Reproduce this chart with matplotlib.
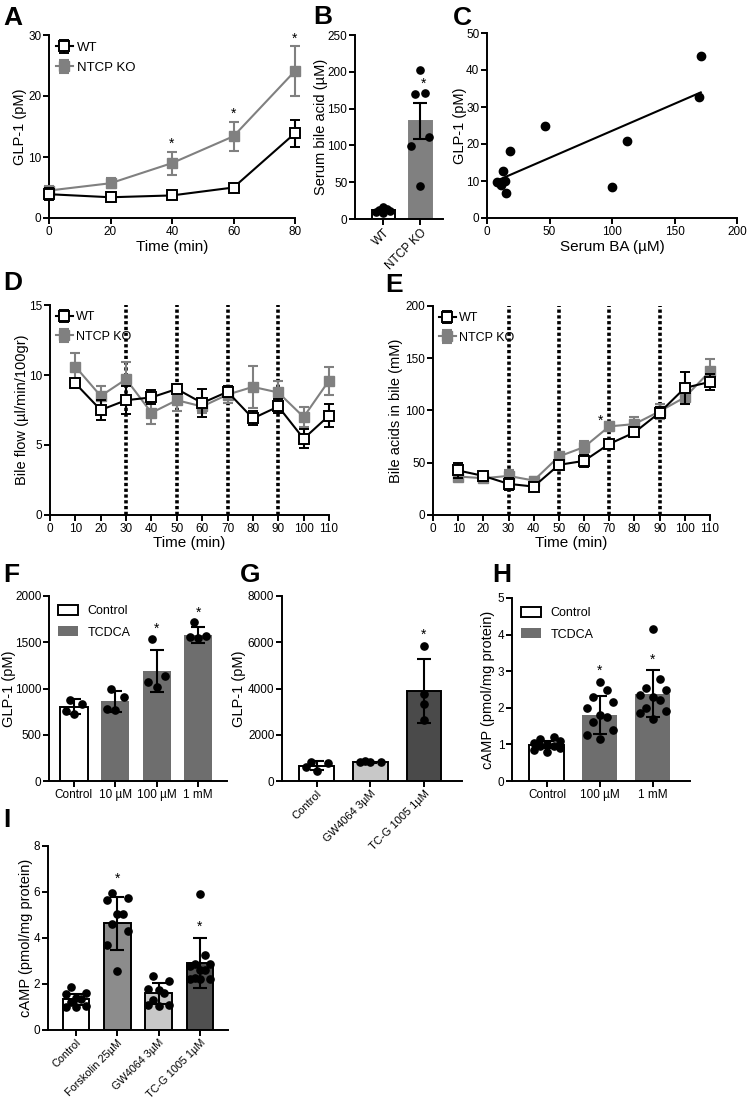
import numpy as np
import matplotlib
matplotlib.use("Agg")
import matplotlib.pyplot as plt

plt.rcParams['font.family'] = ['Liberation Sans', 'DejaVu Sans']

W, H = 747, 1099
KO_GRAY = "#808080"
TC_GRAY = "#6e6e6e"

# ---- A: GLP-1 time course
a_time = [0, 20, 40, 60, 80]
a_wt = [3.9, 3.4, 3.7, 5.0, 13.9]
a_wt_err = [1.0, 0.8, 0.3, 0.6, 2.2]
a_ko = [4.5, 5.7, 9.0, 13.4, 24.1]
a_ko_err = [0.8, 0.8, 1.9, 2.4, 4.1]
a_star = [40, 60, 80]

# ---- B: serum bile acid
b_groups = ["WT", "NTCP KO"]
b_mean = [12, 133]
b_err = [2, 24]
b_wt_dots = [10, 12, 13, 11, 16, 8]
b_ko_dots = [203, 171, 170, 112, 99, 45]

# ---- C: GLP-1 vs serum BA
c_ba = [8, 11, 13, 14.5, 15, 18.5, 46, 100, 111.6, 169.5, 171]
c_glp = [9.8, 9.0, 12.8, 10.1, 6.8, 18.1, 25, 8.5, 20.8, 32.8, 43.8]

# ---- D: bile flow
de_time = [10, 20, 30, 40, 50, 60, 70, 80, 90, 100, 110]
de_lines = [30, 50, 70, 90]
d_wt = [9.4, 7.5, 8.2, 8.4, 9.0, 8.0, 8.8, 6.9, 7.75, 5.45, 7.1]
d_wt_err = [0.3, 0.7, 1.0, 0.5, 0.3, 1.0, 0.4, 0.5, 0.5, 0.7, 0.8]
d_ko = [10.6, 8.5, 9.7, 7.3, 8.2, 7.75, 8.6, 9.15, 8.75, 7.0, 9.6]
d_ko_err = [1.0, 0.7, 1.2, 0.8, 0.8, 0.5, 0.6, 1.5, 0.8, 0.7, 1.0]

# ---- E: bile acids in bile
e_wt = [42.6, 37.4, 29.8, 27.2, 48, 51.8, 68, 79, 98, 121.6, 127.4]
e_wt_err = [7, 3, 6, 3, 5, 6, 4, 4, 5, 15, 8]
e_ko = [36.8, 35.2, 37.4, 33, 56, 65, 84.8, 87, 99.2, 112.6, 137.6]
e_ko_err = [3, 3, 6, 3, 3, 6, 4, 7, 7, 6, 12]

# ---- F: GLP-1 with TCDCA
f_labels = ["Control", "10 µM", "100 µM", "1 mM"]
f_mean = [805, 860, 1190, 1580]
f_err = [80, 112, 230, 90]
f_dots = [[880, 830, 760, 720], [990, 910, 770, 780],
          [1540, 1140, 1075, 1020], [1720, 1560, 1550, 1565]]
f_star = [2, 3]

# ---- G: GLP-1 agonists
g_labels = ["Control", "GW4064 3µM", "TC-G 1005 1µM"]
g_mean = [670, 820, 3880]
g_err = [180, 20, 1390]
g_dots = [[840, 800, 620, 450], [820, 850, 830, 820], [5855, 3762, 3343, 2650]]
g_colors = ["white", "#c8c8c8", "#4a4a4a"]

# ---- H: cAMP with TCDCA
h_labels = ["Control", "100 µM", "1 mM"]
h_mean = [0.99, 1.8, 2.39]
h_err = [0.1, 0.51, 0.65]
h_dots = [[1.05, 1.1, 1.15, 1.2, 0.95, 0.9, 0.85, 0.8, 1.0, 0.95],
          [2.7, 2.5, 2.3, 2.15, 2.0, 1.8, 1.75, 1.6, 1.4, 1.25, 1.15],
          [4.15, 2.8, 2.55, 2.5, 2.35, 2.3, 2.2, 2.0, 1.9, 1.85, 1.7]]
h_star = [None, 2.9, 3.2]

# ---- I: cAMP agonists
i_labels = ["Control", "Forskolin 25µM", "GW4064 3µM", "TC-G 1005 1µM"]
i_mean = [1.33, 4.65, 1.59, 2.92]
i_err = [0.25, 1.15, 0.45, 1.1]
i_dots = [[1.85, 1.6, 1.55, 1.4, 1.35, 1.2, 1.05, 1.0, 1.0],
          [5.95, 5.75, 5.65, 5.05, 5.05, 4.6, 4.3, 3.7, 2.55],
          [2.35, 2.15, 1.8, 1.75, 1.6, 1.3, 1.1, 1.1, 1.05],
          [5.9, 3.25, 2.85, 2.85, 2.8, 2.6, 2.6, 2.25, 2.2, 2.2, 2.2]]
i_colors = ["white", "#8c8c8c", "#c8c8c8", "#505050"]
i_star = [None, 6.4, None, 4.3]

fig = plt.figure(figsize=(W / 100, H / 100), dpi=100)


def box(l, t, r, b):
    ax = fig.add_axes([l / W, 1 - b / H, (r - l) / W, (b - t) / H])
    for s in ["top", "right"]:
        ax.spines[s].set_visible(False)
    for s in ["left", "bottom"]:
        ax.spines[s].set_linewidth(1.4)
    ax.tick_params(width=1.4, length=4, labelsize=8.5, pad=1.5)
    return ax


def ylab(ax, text, xpix, l, r):
    # xpix = pixel column of the label's right edge
    ax.set_ylabel(text, fontsize=10.5)
    ax.yaxis.set_label_coords((xpix - l) / (r - l), 0.5)


def letter(x, y, s):
    fig.text(x / W, 1 - y / H, s, fontsize=19, fontweight="bold", va="top", ha="left")


def dots(ax, xpos, vals, spread):
    vals = np.asarray(vals, dtype=float)
    pattern = [0, -1, 1, -0.5, 0.5]
    offs = np.zeros(len(vals))
    for k, i in enumerate(np.argsort(vals)):
        offs[i] = pattern[k % 5] * spread
    ax.plot(xpos + offs, vals, "o", color="k", ms=5.2, zorder=4, clip_on=False)


def timecourse(ax, t, wt, wt_err, ko, ko_err):
    ax.errorbar(t, ko, yerr=ko_err, fmt="-s", color=KO_GRAY, mfc=KO_GRAY, mec=KO_GRAY,
                ms=6.5, lw=1.5, elinewidth=1.5, capsize=3.5, capthick=1.5, label="NTCP KO",
                zorder=3, clip_on=False)
    ax.errorbar(t, wt, yerr=wt_err, fmt="-s", color="k", mfc="white", mec="k", mew=1.4,
                ms=6.5, lw=1.5, elinewidth=1.5, capsize=3.5, capthick=1.5, label="WT",
                zorder=4, clip_on=False)


def legend_lines(ax, fs):
    h, l = ax.get_legend_handles_labels()
    ax.legend(h[::-1], l[::-1], loc="upper left", frameon=False, fontsize=fs,
              handlelength=1.3, handletextpad=0.3, borderaxespad=0.1, labelspacing=0.6)


# A
ax = box(49, 35, 295, 218)
timecourse(ax, a_time, a_wt, a_wt_err, a_ko, a_ko_err)
for t in a_star:
    i = a_time.index(t)
    ax.text(t, a_ko[i] + a_ko_err[i] + 0.6, "*", ha="center", fontsize=10)
ax.set_xlim(0, 80)
ax.set_ylim(0, 30)
ax.set_xticks(a_time)
ax.set_yticks([0, 10, 20, 30])
ax.set_xlabel("Time (min)", fontsize=11, labelpad=2)
ylab(ax, "GLP-1 (pM)", 27, 49, 295)
legend_lines(ax, 9.5)
letter(3, 6, "A")

# B
ax = box(355, 35, 443, 219)
bx = np.arange(len(b_groups))
ax.bar(bx, b_mean, width=0.62, color=["white", KO_GRAY], edgecolor=["k", KO_GRAY], lw=1.4)
ax.errorbar(bx, b_mean, yerr=b_err, fmt="none", ecolor="k", elinewidth=1.5, capsize=5, capthick=1.5)
dots(ax, bx[0], b_wt_dots, 0.2)
dots(ax, bx[1], b_ko_dots, 0.25)
ax.text(bx[1] + 0.08, 178, "*", ha="center", fontsize=10)
ax.set_xlim(-0.76, 1.62)
ax.set_ylim(0, 250)
ax.set_yticks([0, 50, 100, 150, 200, 250])
ax.set_xticks(bx)
ax.set_xticklabels(b_groups, rotation=45, ha="right", rotation_mode="anchor", fontsize=8.5)
ylab(ax, "Serum bile acid (µM)", 328, 355, 443)
letter(313, 5, "B")

# C
ax = box(487, 33, 737, 218)
ax.plot(c_ba, c_glp, "o", color="k", ms=6, zorder=4, clip_on=False)
k, b0 = np.polyfit(c_ba, c_glp, 1)
xs = np.array([min(c_ba), max(c_ba)])
ax.plot(xs, k * xs + b0, color="k", lw=1.5)
ax.set_xlim(0, 200)
ax.set_ylim(0, 50)
ax.set_xticks([0, 50, 100, 150, 200])
ax.set_yticks([0, 10, 20, 30, 40, 50])
ax.set_xlabel("Serum BA (µM)", fontsize=11, labelpad=2)
ylab(ax, "GLP-1 (pM)", 467, 487, 737)
letter(453, 6, "C")

# D
ax = box(50, 305, 329, 515)
for v in de_lines:
    ax.axvline(v, color="k", ls=(0, (0.9, 0.7)), lw=2.6, zorder=2)
timecourse(ax, de_time, d_wt, d_wt_err, d_ko, d_ko_err)
ax.set_xlim(0, 110)
ax.set_ylim(0, 15)
ax.set_xticks(np.arange(0, 111, 10))
ax.set_yticks([0, 5, 10, 15])
ax.set_xlabel("Time (min)", fontsize=11, labelpad=1)
ylab(ax, "Bile flow (µl/min/100gr)", 29, 50, 329)
legend_lines(ax, 9)
letter(3, 271, "D")

# E
ax = box(433, 306, 710, 515)
for v in de_lines:
    ax.axvline(v, color="k", ls=(0, (0.9, 0.7)), lw=2.6, zorder=2)
timecourse(ax, de_time, e_wt, e_wt_err, e_ko, e_ko_err)
ax.text(66.5, 86, "*", ha="center", fontsize=10)
ax.set_xlim(0, 110)
ax.set_ylim(0, 200)
ax.set_xticks(np.arange(0, 111, 10))
ax.set_yticks([0, 50, 100, 150, 200])
ax.set_xlabel("Time (min)", fontsize=11, labelpad=1)
ylab(ax, "Bile acids in bile (mM)", 403, 433, 710)
legend_lines(ax, 9)
letter(385, 273, "E")

# F
ax = box(49, 596, 227, 781)
fx = np.arange(len(f_labels))
ax.bar(fx[:1], f_mean[:1], width=0.68, color="white", edgecolor="k", lw=1.4, label="Control")
ax.bar(fx[1:], f_mean[1:], width=0.68, color=TC_GRAY, lw=0, label="TCDCA")
ax.errorbar(fx, f_mean, yerr=f_err, fmt="none", ecolor="k", elinewidth=1.5, capsize=5, capthick=1.5)
for i in fx:
    dots(ax, i, f_dots[i], 0.2)
for i in f_star:
    ax.text(i, max(f_dots[i]) + 60, "*", ha="center", fontsize=10)
ax.set_xlim(-0.6, 3.7)
ax.set_ylim(0, 2000)
ax.set_yticks([0, 500, 1000, 1500, 2000])
ax.set_xticks(fx)
ax.set_xticklabels(f_labels)
ylab(ax, "GLP-1 (pM)", 16, 49, 227)
ax.legend(loc="upper left", frameon=False, fontsize=9, handlelength=1.6, handleheight=0.9,
          borderaxespad=0.3, labelspacing=0.7)
letter(3, 563, "F")

# G
ax = box(282, 596, 462, 781)
gx = np.arange(len(g_labels))
ax.bar(gx, g_mean, width=0.65, color=g_colors, edgecolor="k", lw=1.4)
ax.errorbar(gx, g_mean, yerr=g_err, fmt="none", ecolor="k", elinewidth=1.5, capsize=5, capthick=1.5)
for i in gx:
    dots(ax, i, g_dots[i], 0.2 if i < 2 else 0.0)
ax.text(gx[2], 6150, "*", ha="center", fontsize=10)
ax.set_xlim(-0.65, 2.71)
ax.set_ylim(0, 8000)
ax.set_yticks([0, 2000, 4000, 6000, 8000])
ax.set_xticks(gx)
ax.set_xticklabels(g_labels, rotation=45, ha="right", rotation_mode="anchor", fontsize=8)
ylab(ax, "GLP-1 (pM)", 246, 282, 462)
letter(240, 563, "G")

# H
ax = box(512, 598, 690, 781)
hx = np.arange(len(h_labels))
ax.bar(hx[:1], h_mean[:1], width=0.66, color="white", edgecolor="k", lw=1.4, label="Control")
ax.bar(hx[1:], h_mean[1:], width=0.66, color=TC_GRAY, lw=0, label="TCDCA")
ax.errorbar(hx, h_mean, yerr=h_err, fmt="none", ecolor="k", elinewidth=1.5, capsize=5, capthick=1.5)
for i in hx:
    dots(ax, i, h_dots[i], 0.25)
for i in hx:
    if h_star[i] is not None:
        ax.text(i, h_star[i], "*", ha="center", fontsize=10)
ax.set_xlim(-0.66, 2.7)
ax.set_ylim(0, 5)
ax.set_yticks([0, 1, 2, 3, 4, 5])
ax.set_xticks(hx)
ax.set_xticklabels(h_labels)
ylab(ax, "cAMP (pmol/mg protein)", 495, 512, 690)
ax.legend(loc="upper left", frameon=False, fontsize=9, handlelength=1.6, handleheight=0.9,
          borderaxespad=0.3, labelspacing=0.7)
letter(492, 563, "H")

# I
ax = box(48, 846, 228, 1030)
ix = np.arange(len(i_labels))
ax.bar(ix, i_mean, width=0.64, color=i_colors, edgecolor="k", lw=1.4)
ax.errorbar(ix, i_mean, yerr=i_err, fmt="none", ecolor="k", elinewidth=1.5, capsize=5, capthick=1.5)
for i in ix:
    dots(ax, i, i_dots[i], 0.25)
for i in ix:
    if i_star[i] is not None:
        ax.text(i, i_star[i], "*", ha="center", fontsize=10)
ax.set_xlim(-0.68, 3.68)
ax.set_ylim(0, 8)
ax.set_yticks([0, 2, 4, 6, 8])
ax.set_xticks(ix)
ax.set_xticklabels(i_labels, rotation=45, ha="right", rotation_mode="anchor", fontsize=7.8)
ylab(ax, "cAMP (pmol/mg protein)", 33, 48, 228)
letter(3, 808, "I")

fig.savefig("out.png", dpi=100)
